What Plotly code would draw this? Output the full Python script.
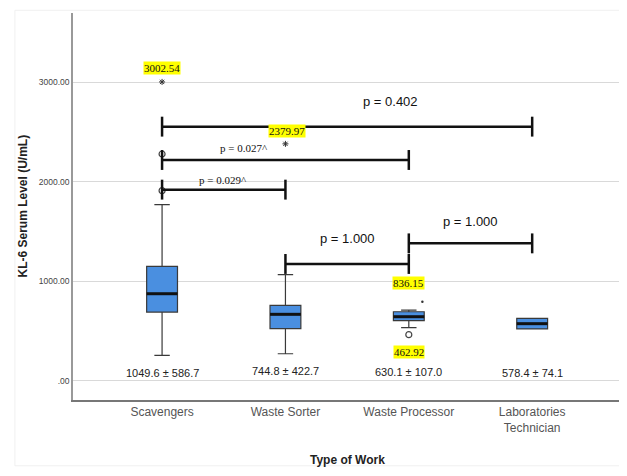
import plotly.graph_objects as go

# ---- data ----
categories = ["Scavengers", "Waste Sorter", "Waste Processor", "Laboratories<br>Technician"]
q1 = [690, 523, 603, 520]
median = [874, 667, 643, 573]
q3 = [1149, 757, 693, 626]
lower_whisker = [254, 271, 533, 520]
upper_whisker = [1769, 1065, 710, 626]
means = [1049.6, 744.8, 630.1, 578.4]
sds = [586.7, 422.7, 107.0, 74.1]

# outliers
circle_out_cat = [0, 0, 2]
circle_out_val = [2278, 1910, 462.92]
star_out_cat = [0, 1]
star_out_val = [3002.54, 2379.97]
dot_out_cat = [2.11]
dot_out_val = [794]

# highlighted value labels
hl_cat = [0, 1.01, 2, 2]
hl_val = [3143, 2505, 982, 291]
hl_text = ["3002.54", "2379.97", "836.15", "462.92"]

# significance brackets
br_x0 = [0, 0, 0, 1, 2]
br_x1 = [3, 2, 1, 2, 3]
br_y = [2553, 2218, 1920, 1173, 1380]
br_label = ["p = 0.402", "p = 0.027^", "p = 0.029^", "p = 1.000", "p = 1.000"]
br_lx = [1.85, 0.665, 0.49, 1.5, 2.5]
br_ly = [2804, 2342, 2017, 1424, 1598]
br_serif = [False, True, True, False, False]
tick_half = 100

mean_label_y = [80, 95, 90, 80]

BOX_FILL = "#4a8fe0"
SANS = "Liberation Sans"
fig = go.Figure()

for i in range(len(categories)):
    fig.add_trace(go.Box(
        x=[i], q1=[q1[i]], median=[median[i]], q3=[q3[i]],
        lowerfence=[lower_whisker[i]], upperfence=[upper_whisker[i]],
        width=0.25, whiskerwidth=0.5,
        fillcolor=BOX_FILL, line=dict(color="#3a3a3a", width=1.2),
        boxpoints=False, showlegend=False, hoverinfo="skip"))
    fig.add_trace(go.Scatter(
        x=[i - 0.125, i + 0.125], y=[median[i], median[i]], mode="lines",
        line=dict(color="#111111", width=3), showlegend=False, hoverinfo="skip"))

fig.add_trace(go.Scatter(x=circle_out_cat, y=circle_out_val, mode="markers",
                         marker=dict(symbol="circle-open", size=6, color="#444", line=dict(width=1.2)),
                         showlegend=False))
fig.add_trace(go.Scatter(x=star_out_cat, y=star_out_val, mode="markers",
                         marker=dict(symbol="asterisk-open", size=5, color="#333", line=dict(width=1)),
                         showlegend=False))
fig.add_trace(go.Scatter(x=dot_out_cat, y=dot_out_val, mode="markers",
                         marker=dict(symbol="circle", size=2.5, color="#333"),
                         showlegend=False))

for x0, x1, y in zip(br_x0, br_x1, br_y):
    fig.add_trace(go.Scatter(
        x=[x0, x0, None, x0, x1, None, x1, x1],
        y=[y - tick_half, y + tick_half, None, y, y, None, y - tick_half, y + tick_half],
        mode="lines", line=dict(color="#111", width=2.5), showlegend=False, hoverinfo="skip"))

annotations = []
for lx, ly, lab, serif in zip(br_lx, br_ly, br_label, br_serif):
    annotations.append(dict(
        x=lx, y=ly, text=lab, showarrow=False, xref="x", yref="y",
        font=dict(family="Liberation Serif" if serif else SANS,
                  size=11 if serif else 13, color="#111")))
for x, y, t in zip(hl_cat, hl_val, hl_text):
    annotations.append(dict(
        x=x, y=y, text=t, showarrow=False, xref="x", yref="y", bgcolor="#ffff00",
        borderpad=0, font=dict(family="Liberation Serif", size=11, color="#111")))
for i, (m, s) in enumerate(zip(means, sds)):
    annotations.append(dict(
        x=i, y=mean_label_y[i], text=f"{m:.1f} ± {s:.1f}", showarrow=False, xref="x", yref="y",
        font=dict(family=SANS, size=11, color="#222")))

annotations.append(dict(x=0.5, y=-0.155, xref="paper", yref="paper", text="<b>Type of Work</b>",
                        showarrow=False, xanchor="center", yanchor="middle",
                        font=dict(family=SANS, size=12, color="#222")))
annotations.append(dict(x=-0.093, y=0.5, xref="paper", yref="paper", text="<b>KL-6 Serum Level (U/mL)</b>",
                        showarrow=False, textangle=-90, xanchor="center", yanchor="middle",
                        font=dict(family=SANS, size=12, color="#222")))

fig.update_layout(
    width=619, height=468,
    margin=dict(l=65, r=6, t=5, b=76),
    paper_bgcolor="white", plot_bgcolor="white",
    annotations=annotations,
    shapes=[dict(type="rect", xref="paper", yref="paper", x0=-0.106, x1=1.0075, y0=-0.17, y1=1.007,
                 line=dict(color="#f0f0f0", width=1), layer="below")],
    xaxis=dict(
        range=[-0.722, 3.72], tickmode="array", tickvals=list(range(len(categories))),
        ticktext=categories, showgrid=False, zeroline=False, showline=True,
        linecolor="#777", linewidth=1.5, ticks="", automargin=False,
        tickfont=dict(family=SANS, size=12, color="#555")),
    yaxis=dict(
        range=[-194, 3695], tickvals=[0, 1000, 2000, 3000],
        ticktext=[".00", "1000.00", "2000.00", "3000.00"],
        showgrid=True, gridcolor="#d9d9d9", gridwidth=1, zeroline=False,
        showline=True, linecolor="#999", linewidth=1.5, ticks="", automargin=False,
        tickfont=dict(family=SANS, size=8.5, color="#444")),
)

fig.write_html("out.html")
